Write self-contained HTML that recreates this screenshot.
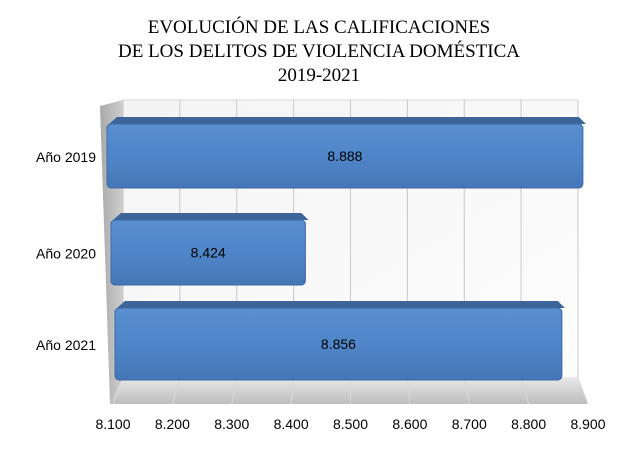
<!DOCTYPE html>
<html><head><meta charset="utf-8"><style>
body{margin:0;background:#fff}
svg{display:block;font-family:"Liberation Sans",sans-serif}
</style></head><body>
<svg id="chart" width="638" height="473" viewBox="0 0 638 473" xmlns="http://www.w3.org/2000/svg">
<defs>
<linearGradient id="wall" x1="0" y1="0" x2="1" y2="1"><stop offset="0" stop-color="#f4f4f4"/><stop offset="1" stop-color="#fdfdfd"/></linearGradient>
<linearGradient id="floor" x1="0" y1="0" x2="0" y2="1"><stop offset="0" stop-color="#e8e8e8"/><stop offset="1" stop-color="#bdbdbd"/></linearGradient>
<linearGradient id="lwall" x1="0" y1="0" x2="1" y2="0"><stop offset="0" stop-color="#a8a8a8"/><stop offset="1" stop-color="#cfcfcf"/></linearGradient>
<linearGradient id="barF" x1="0" y1="0" x2="0" y2="1"><stop offset="0" stop-color="#5a8fd0"/><stop offset="0.5" stop-color="#4f86c9"/><stop offset="1" stop-color="#4576b5"/></linearGradient>
</defs>
<g font-family="Liberation Serif,serif" font-size="19" text-anchor="middle" fill="#000">
<text x="319" y="33">EVOLUCIÓN DE LAS CALIFICACIONES</text>
<text x="319" y="57">DE LOS DELITOS DE VIOLENCIA DOMÉSTICA</text>
<text x="319" y="81">2019-2021</text>
</g>
<polygon points="123,100 578,100 578,378 123,378" fill="url(#wall)" stroke="#d8d8d8"/>
<polygon points="100,106 123,100 123,378 110,404" fill="url(#lwall)"/>
<polygon points="123,378 578,378 588,404 110,404" fill="url(#floor)"/>
<g id="grid"></g>
<g id="bars"></g>
<g id="labels"></g>
</svg>
<script>
const categories=["Año 2019","Año 2020","Año 2021"];
const values=[8.888,8.424,8.856];
const valueLabels=["8.888","8.424","8.856"];
const ticks=[8.1,8.2,8.3,8.4,8.5,8.6,8.7,8.8,8.9];
const tickLabels=["8.100","8.200","8.300","8.400","8.500","8.600","8.700","8.800","8.900"];
const vMin=8.1,vMax=8.9;
const NS="http://www.w3.org/2000/svg";
function mk(t,a,p){const e=document.createElementNS(NS,t);for(const k in a)e.setAttribute(k,a[k]);p.appendChild(e);return e;}
function xFront(v){return 113+(v-vMin)/(vMax-vMin)*475;}
function xBack(v){return 123+(v-vMin)/(vMax-vMin)*455;}
const grid=document.getElementById('grid'),bars=document.getElementById('bars'),labels=document.getElementById('labels');
ticks.forEach((t,i)=>{
  const l=mk('line',{x1:xBack(t),y1:100,x2:xBack(t),y2:378,stroke:'#c8c8c8'},grid);
  
  
  const f=mk('line',{x1:xBack(t),y1:378,x2:xFront(t),y2:404,stroke:'#d8d8d8'},grid);
  
  
  const tx=mk('text',{x:xFront(t),y:429,'font-size':14,'text-anchor':'middle',fill:'#000'},labels);
  tx.textContent=tickLabels[i];
  
  
});
const rowTop=[124,220,308],rowH=[64,65,72],leftX=[107,111,115];
categories.forEach((c,i)=>{
  const y=rowTop[i],h=rowH[i],x0=leftX[i],x1=xFront(values[i])-(i==0?-2:0);
  const g=mk('g',{},bars);
  
  
  mk('polygon',{points:`${x0+2},${y} ${x0+10},${y-7} ${x1-4},${y-7} ${x1+3},${y} `,fill:'#3d6599'},g);
  mk('rect',{x:x0,y:y,width:x1-x0,height:h,rx:4,fill:'url(#barF)',stroke:'#3a6aa5'},g);
  const v=mk('text',{x:(x0+x1)/2,y:y+h/2+5,'font-size':14,'text-anchor':'middle',fill:'#000'},labels);
  v.textContent=valueLabels[i];
  
  
  const cl=mk('text',{x:96,y:y+h/2+6,'font-size':14,'text-anchor':'end',fill:'#000'},labels);
  cl.textContent=c;
  
  
});
</script>
</body></html>
